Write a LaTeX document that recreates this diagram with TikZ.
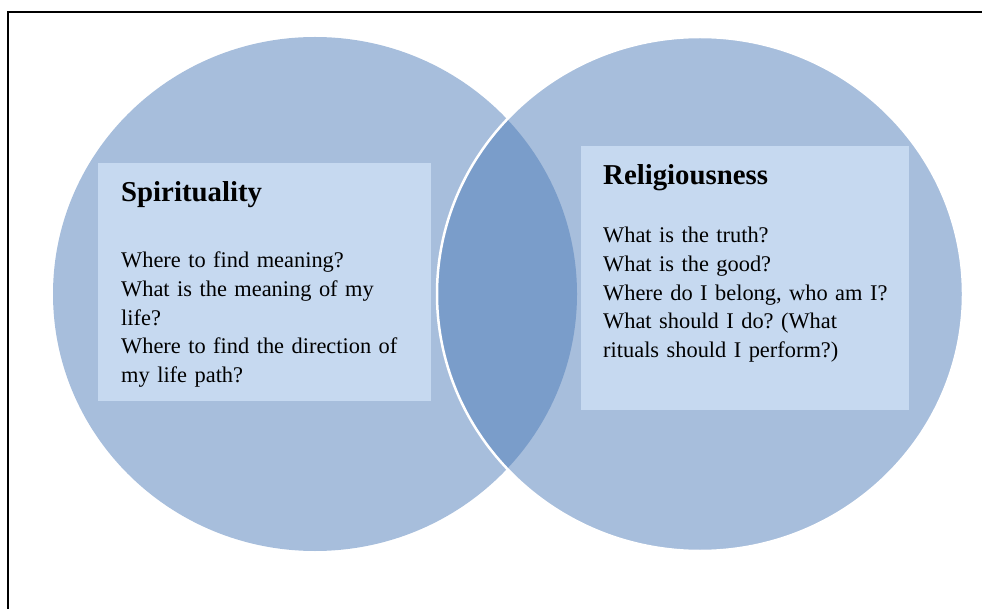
\documentclass[tikz,border=0pt]{standalone}
\usepackage{fontspec}
\setmainfont{Liberation Serif}
\definecolor{circleblue}{HTML}{A7BEDC}
\definecolor{lensblue}{HTML}{7A9DCA}
\definecolor{panelblue}{HTML}{C6D9F0}
\tikzset{
  venn/.style={fill=circleblue},
  panel/.style={fill=panelblue},
  heading/.style={anchor=base west, inner sep=0pt, font=\fontsize{28.8}{32}\selectfont\bfseries},
  question/.style={anchor=base west, inner sep=0pt, align=left, text width=320pt,
    font=\fontsize{22.4}{28.6}\selectfont\frenchspacing},
}
\begin{document}
\begin{tikzpicture}[x=1pt,y=-1pt]
        \useasboundingbox (0,0) rectangle (982,609);
        \clip (0,0) rectangle (982,609);
        %% Frame
        \draw[line width=1.6pt] (8,640) -- (8,12) -- (1000,12);
        %% Circles
        \coordinate (spi) at (315,294);
        \coordinate (rel) at (700,294);
        \fill[venn] (spi) ellipse [x radius=262, y radius=257];
        \fill[venn] (rel) ellipse [x radius=263, y radius=257];
        \begin{scope}
            \clip (spi) ellipse [x radius=262, y radius=257];
            \fill[lensblue] (rel) ellipse [x radius=263, y radius=257];
        \end{scope}
        \draw[white,line width=2.5pt] (rel) ellipse [x radius=263, y radius=257];
        %% Panels
        \fill[panel] (98,163) rectangle (431,401);
        \fill[panel] (581,146) rectangle (909,410);
        %% Labels
        \node[heading]  (spihead) at (121,202) {Spirituality};
        \node[question] (spitext) at (121,268) {Where to find meaning?\\
            What is the meaning of my\\ life?\\ Where to find the direction of\\ my life path?};
        \node[heading]  (relhead) at (603,185) {Religiousness};
        \node[question] (reltext) at (603,243) {What is the truth?\\ What is the good?\\
            Where do I belong, who am I?\\ What should I do? (What\\ rituals should I perform?)};
\end{tikzpicture}
\end{document}
